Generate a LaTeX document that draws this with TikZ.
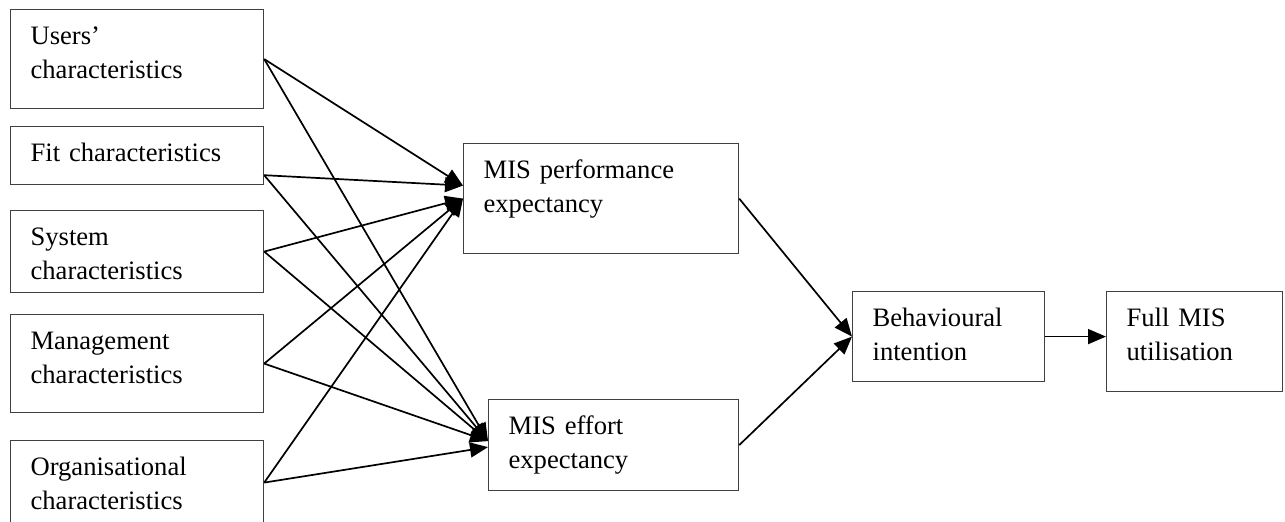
\documentclass[tikz,border=0pt]{standalone}
\usepackage{fontspec}
\setmainfont{Liberation Serif}
\usetikzlibrary{arrows.meta}

\begin{document}
\begin{tikzpicture}[x=0.5pt,y=-0.5pt,>={Triangle[length=9pt,width=7.5pt]},
  box/.style={draw=black!75,line width=0.6pt,anchor=north west,align=left,
    inner xsep=10pt,inner ysep=0pt,text height=17.5pt,
    font=\fontsize{13.3}{17}\selectfont},
  link/.style={->,line width=0.85pt}]
\useasboundingbox (0,0) rectangle (1285,522);
\clip (0,0) rectangle (1285,522);
\node[box,text width=106.5pt,text depth=32pt] (users) at (10,9) {Users'\\characteristics};
\node[box,text width=106.5pt,text depth=11.5pt] (fit) at (10,126) {Fit characteristics};
\node[box,text width=106.5pt,text depth=23.5pt] (system) at (10,210) {System\\characteristics};
\node[box,text width=106.5pt,text depth=31.5pt] (mgmt) at (10,314) {Management\\characteristics};
\node[box,text width=106.5pt,text depth=24.5pt] (org) at (10,440) {Organisational\\characteristics};
\node[box,text width=117.5pt,text depth=37.5pt] (perf) at (463,143) {MIS performance\\expectancy};
\node[box,text width=105pt,text depth=28pt] (effort) at (488,399) {MIS effort\\expectancy};
\node[box,text width=76pt,text depth=27.5pt] (behav) at (852,291) {Behavioural\\intention};
\node[box,text width=68pt,text depth=32.5pt] (full) at (1106,291) {Full MIS\\utilisation};
\coordinate (fitout) at ([yshift=5pt]fit.south east);
\coordinate (perfin) at ([yshift=6.5pt]perf.west);
\coordinate (effin) at ([yshift=2pt]effort.west);
% to performance expectancy
\draw[link] (users.east) -- (perfin);
\draw[link] (fitout) -- (perfin);
\draw[link] (system.east) -- (perf.west);
\draw[link] (mgmt.east) -- (perf.west);
\draw[link] (org.east) -- (perf.west);
% to effort expectancy
\draw[link] (users.east) -- (effin);
\draw[link] (fitout) -- (effin);
\draw[link] (system.east) -- (effin);
\draw[link] (mgmt.east) -- (effin);
\draw[link] (org.east) -- ([yshift=-1pt]effort.west);
\draw[link] (perf.east) -- (behav.west);
\draw[link] (effort.east) -- (behav.west);
\draw[link] (behav.east) -- (behav.east -| full.west);
\end{tikzpicture}
\end{document}
